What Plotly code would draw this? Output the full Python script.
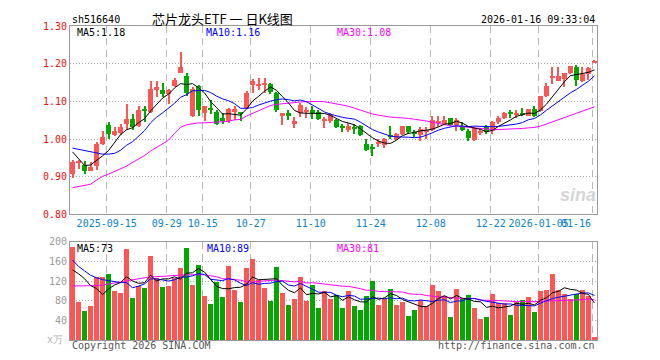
import plotly.graph_objects as go

# ---------------- data ----------------
open_ = [0.906,0.938,0.932,0.915,0.928,0.987,1.038,1.010,1.015,1.041,
         1.052,1.034,1.077,1.072,1.131,1.130,1.120,1.141,1.176,1.167,
         1.061,1.141,1.069,1.081,1.072,1.057,1.047,1.072,1.071,1.082,
         1.144,1.142,1.145,1.147,1.121,1.062,1.069,1.039,1.069,1.072,
         1.077,1.071,1.050,1.049,1.051,1.033,1.023,1.029,1.035,0.988,
         0.976,0.987,0.984,1.008,0.999,1.014,1.035,1.017,1.011,1.019,
         1.025,1.045,1.040,1.056,1.036,1.033,1.021,0.998,1.017,1.031,
         1.021,1.045,1.056,1.069,1.064,1.066,1.062,1.080,1.074,1.115,
         1.162,1.154,1.159,1.174,1.191,1.154,1.172,1.203]
close = [0.939,0.943,0.916,0.926,0.987,1.005,1.013,1.022,1.031,1.052,
         1.033,1.078,1.075,1.133,1.137,1.120,1.131,1.156,1.192,1.123,
         1.134,1.076,1.088,1.079,1.041,1.048,1.080,1.079,1.069,1.121,
         1.154,1.143,1.148,1.124,1.078,1.069,1.060,1.048,1.091,1.074,
         1.069,1.054,1.052,1.064,1.032,1.031,1.034,1.027,1.011,0.971,
         0.974,0.990,1.001,1.006,1.014,1.035,1.019,1.015,1.027,1.021,
         1.051,1.047,1.051,1.036,1.051,1.025,1.004,1.030,1.019,1.018,
         1.045,1.056,1.068,1.067,1.066,1.064,1.080,1.062,1.115,1.141,
         1.164,1.168,1.174,1.194,1.156,1.172,1.189,1.207]
high = [0.945,0.945,0.941,0.938,0.991,1.022,1.046,1.031,1.041,1.093,
        1.066,1.089,1.089,1.155,1.153,1.150,1.133,1.163,1.231,1.174,
        1.137,1.144,1.088,1.104,1.077,1.070,1.083,1.089,1.073,1.128,
        1.159,1.161,1.161,1.150,1.124,1.069,1.077,1.058,1.095,1.086,
        1.089,1.076,1.058,1.069,1.054,1.039,1.042,1.040,1.038,0.999,
        0.988,1.000,1.004,1.035,1.017,1.035,1.035,1.025,1.032,1.032,
        1.062,1.060,1.060,1.057,1.057,1.045,1.027,1.032,1.027,1.036,
        1.048,1.062,1.071,1.077,1.077,1.082,1.080,1.089,1.115,1.150,
        1.190,1.190,1.176,1.194,1.196,1.191,1.191,1.209]
low = [0.897,0.921,0.908,0.914,0.918,0.985,1.000,1.008,1.010,1.024,
       1.025,1.032,1.044,1.068,1.111,1.111,1.093,1.139,1.174,1.115,
       1.058,1.061,1.048,1.067,1.036,1.039,1.043,1.050,1.048,1.080,
       1.121,1.130,1.121,1.119,1.071,1.038,1.051,1.029,1.058,1.055,
       1.054,1.051,1.028,1.042,1.030,1.019,1.019,1.013,1.007,0.967,
       0.955,0.979,0.975,1.000,0.997,1.012,1.014,1.006,0.996,1.000,
       1.021,1.033,1.038,1.035,1.021,1.021,0.996,0.996,1.010,1.014,
       1.014,1.040,1.052,1.056,1.056,1.060,1.060,1.058,1.071,1.111,
       1.146,1.153,1.137,1.172,1.141,1.152,1.156,1.201]
volume = [190,77,60,70,128,128,134,100,96,186,
          86,110,106,172,127,108,110,127,148,188,
          112,154,90,74,118,88,152,102,78,146,
          165,123,107,80,150,97,72,83,129,80,
          112,65,100,83,92,65,100,70,62,90,
          120,72,86,104,72,78,50,62,81,69,
          112,100,90,48,104,83,92,66,44,48,
          94,76,76,52,77,82,88,58,100,102,
          134,102,94,84,94,102,90,6]

# moving-average values visible at the left edge (they depend on earlier, unseen days)
ma5_head = [0.966, 0.947, 0.930, 0.931]
ma10_head = [0.976, 0.973, 0.969, 0.965, 0.962, 0.960, 0.960, 0.962, 0.970]
ma30_head = [0.871, 0.874, 0.877, 0.880, 0.891, 0.901, 0.907, 0.914, 0.921, 0.928,
             0.938, 0.946, 0.956, 0.968, 0.978, 0.989, 0.997, 1.015, 1.031, 1.038,
             1.041, 1.043, 1.043, 1.044, 1.044, 1.045, 1.047, 1.051, 1.052]
vma5_head = [143, 135, 125, 111]
vma10_head = [163, 150, 141, 132, 127, 123, 121, 119, 117]
vma30_head = [110, 110, 111, 111, 111, 112, 114, 116, 118, 121,
              123, 125, 127, 129, 129, 130, 130, 131, 132, 133,
              133, 133, 133, 131, 129, 125, 124, 123, 122]

tick_index = [6, 16, 22, 30, 40, 50, 60, 70, 78, 87]
tick_labels = ["2025-09-15", "09-29", "10-15", "10-27", "11-10", "11-24",
               "12-08", "12-22", "2026-01-05", "01-16"]
price_ticks = [0.80, 0.90, 1.00, 1.10, 1.20, 1.30]
vol_ticks = [40, 80, 120, 160, 200]

code_text = "sh516640"
title_text = "芯片龙头ETF 一 日K线图"
time_text = "2026-01-16 09:33:04"
price_ma_labels = ["MA5:1.18", "MA10:1.16", "MA30:1.08"]
vol_ma_labels = ["MA5:73", "MA10:89", "MA30:81"]

# ---------------- computation ----------------
def moving_avg(values, w, head):
    out = list(head)
    for i in range(len(head), len(values)):
        out.append(sum(values[i - w + 1:i + 1]) / w)
    return out

n = len(close)
x = list(range(n))
UP = "#ff5555"
DOWN = "#00a800"
colors = [UP if c >= o else DOWN for o, c in zip(open_, close)]
body_base = [min(o, c) for o, c in zip(open_, close)]
body_h = [max(abs(c - o), 0.0028) for o, c in zip(open_, close)]
wick_h = [h - l for h, l in zip(high, low)]

ma5 = moving_avg(close, 5, ma5_head)
ma10 = moving_avg(close, 10, ma10_head)
ma30 = moving_avg(close, 30, ma30_head)
vma5 = moving_avg(volume, 5, vma5_head)
vma10 = moving_avg(volume, 10, vma10_head)
vma30 = moving_avg(volume, 30, vma30_head)

MONO = "DejaVu Sans Mono"
fig = go.Figure()

# price panel
fig.add_trace(go.Bar(x=x, y=wick_h, base=low, width=0.17, marker=dict(color=colors, line=dict(width=0)),
                     xaxis="x", yaxis="y", hoverinfo="skip"))
fig.add_trace(go.Bar(x=x, y=body_h, base=body_base, width=0.83, marker=dict(color=colors, line=dict(width=0)),
                     xaxis="x", yaxis="y", hoverinfo="skip"))
for s, col in [(ma30, "#ff00ff"), (ma10, "#0000ff"), (ma5, "#000000")]:
    fig.add_trace(go.Scatter(x=x, y=s, mode="lines", line=dict(color=col, width=1),
                             xaxis="x", yaxis="y", hoverinfo="skip"))

# volume panel
fig.add_trace(go.Bar(x=x, y=volume, width=0.83, marker=dict(color=colors, line=dict(width=0)),
                     xaxis="x2", yaxis="y2", hoverinfo="skip"))
for s, col in [(vma30, "#ff00ff"), (vma10, "#0000ff"), (vma5, "#000000")]:
    fig.add_trace(go.Scatter(x=x, y=s, mode="lines", line=dict(color=col, width=1),
                             xaxis="x2", yaxis="y2", hoverinfo="skip"))

tickvals = [t - 0.3 for t in tick_index]
xr = [-0.42, n - 0.58]
grid_col = "#b8b8b8"
border = "#999999"

# page body has an 8px margin: figure is 652x352 so that the plot sits at x 70..597, y 20..340
fig.update_layout(
    width=652, height=352,
    margin=dict(l=62, r=63, t=12, b=20),
    paper_bgcolor="white", plot_bgcolor="white",
    showlegend=False, barmode="overlay", bargap=0,
    xaxis=dict(domain=[0, 1], anchor="y", range=xr, tickmode="array", tickvals=tickvals,
               ticktext=tick_labels[:-1] + [""], tickangle=0, ticks="",
               showgrid=True, gridcolor=grid_col, griddash="7px,5px", gridwidth=1,
               showline=True, mirror=True, linecolor=border, linewidth=1, zeroline=False,
               tickfont=dict(family=MONO, size=10, color="#0a84c8")),
    yaxis=dict(domain=[0.4, 1], anchor="x", range=[0.8, 1.3], tickmode="array",
               tickvals=price_ticks, ticktext=[f"{v:.2f}" for v in price_ticks], ticks="",
               showgrid=True, gridcolor="#a8a8a8", griddash="1px,2px", gridwidth=1,
               showline=True, mirror=True, linecolor=border, linewidth=1, zeroline=False,
               tickfont=dict(family=MONO, size=10, color="#ee1111")),
    xaxis2=dict(domain=[0, 1], anchor="y2", matches="x", range=xr, tickmode="array",
                tickvals=tickvals, showticklabels=False, ticks="",
                showgrid=True, gridcolor=grid_col, griddash="7px,5px", gridwidth=1,
                showline=True, mirror=True, linecolor=border, linewidth=1, zeroline=False),
    yaxis2=dict(domain=[0, 0.3125], anchor="x2", range=[0, 200], tickmode="array",
                tickvals=vol_ticks, ticktext=[str(v) for v in vol_ticks], ticks="",
                showgrid=True, gridcolor="#a8a8a8", griddash="1px,2px", gridwidth=1,
                showline=True, mirror=True, linecolor=border, linewidth=1, zeroline=False,
                tickfont=dict(family=MONO, size=10, color="#9a9a9a")),
)

# helpers: page pixel -> paper coordinates (plot area spans page x 70..597, y 20..340)
def py(ypix):
    return (340 - ypix) / 320.0

def px(xpix):
    return (xpix - 70) / 527.0

ann = []
def add(text, x, y, xanchor="left", color="#000", size=10, family=MONO, **kw):
    ann.append(dict(text=text, x=x, y=y, xref="paper", yref="paper", xanchor=xanchor,
                    yanchor="middle", showarrow=False, font=dict(family=family, size=size, color=color), **kw))

add(code_text, px(70), py(13))
add(title_text, px(222), py(12), xanchor="center", size=13, family="Noto Sans CJK SC")
add(time_text, px(597), py(13), xanchor="right")
ma_cols = ["#000000", "#0000ff", "#ff00ff"]
for lab, xp, col in zip(price_ma_labels, [75, 204, 335], ma_cols):
    add(lab, px(xp), py(27), color=col)
for lab, xp, col in zip(vol_ma_labels, [75, 205, 335], ma_cols):
    add(lab, px(xp), py(247), color=col)
add("Copyright 2026 SINA.COM", px(70), py(346), color="#555555")
add("http://finance.sina.com.cn", px(597), py(346), xanchor="right", color="#555555")
add("x万", px(65), py(339), xanchor="right", color="#b0b0b0")
add("<b><i>sina</i></b>", px(578), py(192), xanchor="center", color="#d6d6d6", size=18, family="Liberation Sans")

# last date label is pushed inside the panel, right-aligned to its tick
ann.append(dict(text=tick_labels[-1], x=tickvals[-1], y=0.4, xref="x", yref="paper",
                xanchor="right", yanchor="top", yshift=-2, showarrow=False,
                font=dict(family=MONO, size=10, color="#0a84c8")))

fig.update_layout(annotations=ann)
fig.write_html("out.html")
